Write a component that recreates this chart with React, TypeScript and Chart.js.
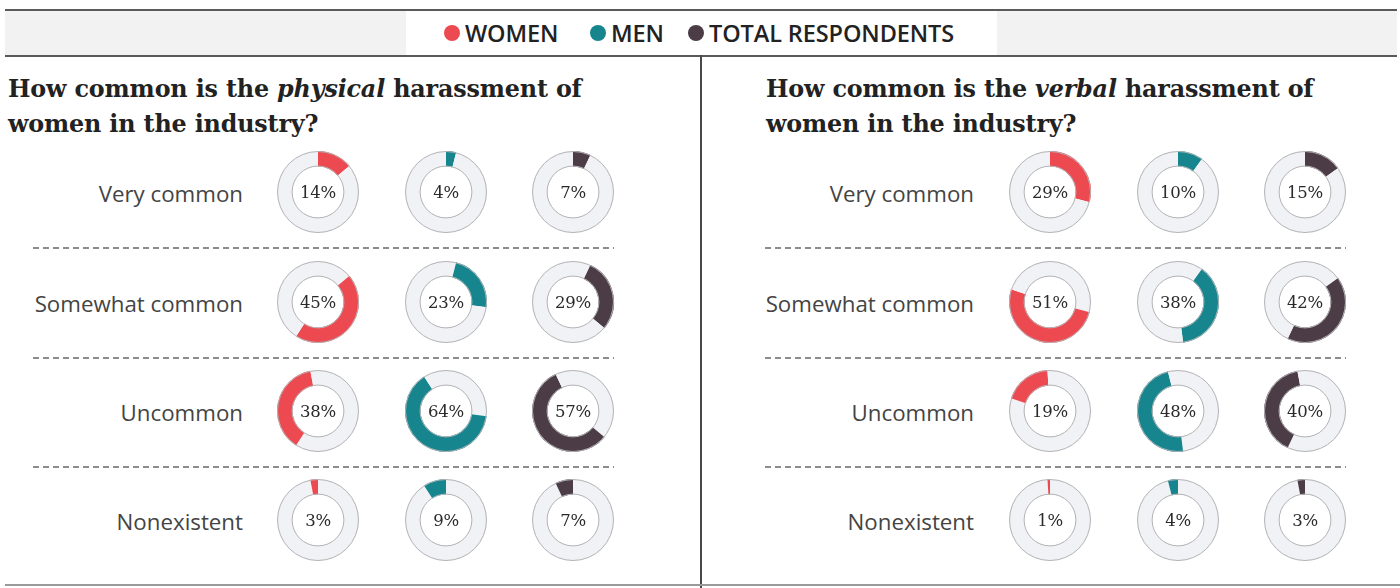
import React, { useEffect, useRef } from "react";
import { Chart, registerables } from "chart.js";

Chart.register(...registerables);

// ---------- DATA ----------
const categories = ["Very common", "Somewhat common", "Uncommon", "Nonexistent"];
const seriesNames = ["WOMEN", "MEN", "TOTAL RESPONDENTS"];
const physicalWomen = [14, 45, 38, 3];
const physicalMen = [4, 23, 64, 9];
const physicalTotal = [7, 29, 57, 7];
const verbalWomen = [29, 51, 19, 1];
const verbalMen = [10, 38, 48, 4];
const verbalTotal = [15, 42, 40, 3];

// ---------- STYLE ----------
const seriesColors = ["#ec4a50", "#16858e", "#4b3c46"];
const ringBg = "#f1f2f5";
const ringLine = "#b4b4b6";
const SANS = "'Open Sans', 'Noto Sans', sans-serif";
const SERIF = "'DejaVu Serif', serif";

const colX = [318, 446, 573];
const rowY = [192, 302, 411, 520];
const CANVAS = 86;

const outlinePlugin = {
  id: "ringOutline",
  afterDatasetsDraw(chart: any) {
    const meta = chart.getDatasetMeta(0);
    const arc = meta.data[0];
    if (!arc) return;
    const p = arc.getProps(["x", "y", "outerRadius", "innerRadius"], true);
    const ctx = chart.ctx;
    ctx.save();
    ctx.strokeStyle = ringLine;
    ctx.lineWidth = 1;
    ctx.beginPath();
    ctx.arc(p.x, p.y, p.outerRadius - 0.5, 0, Math.PI * 2);
    ctx.stroke();
    ctx.beginPath();
    ctx.arc(p.x, p.y, p.innerRadius + 0.5, 0, Math.PI * 2);
    ctx.stroke();
    ctx.restore();
  },
};

function Donut({ before, value, color, cx, cy }: any) {
  const ref = useRef<HTMLCanvasElement>(null);
  useEffect(() => {
    const after = 100 - before - value;
    const chart = new Chart(ref.current!, {
      type: "doughnut",
      data: {
        labels: ["before", "value", "after"],
        datasets: [
          {
            data: [before, value, after],
            backgroundColor: [ringBg, color, ringBg],
            borderWidth: 0,
          },
        ],
      },
      options: {
        responsive: false,
        animation: false,
        cutout: "62%",
        events: [],
        layout: { padding: 2 },
        plugins: { legend: { display: false }, tooltip: { enabled: false } },
      },
      plugins: [outlinePlugin],
    });
    return () => chart.destroy();
  }, [before, value, color]);
  return (
    <div
      style={{
        position: "absolute",
        left: cx - CANVAS / 2,
        top: cy - CANVAS / 2,
        width: CANVAS,
        height: CANVAS,
      }}
    >
      <canvas ref={ref} width={CANVAS} height={CANVAS} style={{ width: CANVAS, height: CANVAS }} />
      <div
        style={{
          position: "absolute",
          left: 0,
          top: 0,
          width: CANVAS,
          height: CANVAS,
          display: "flex",
          alignItems: "center",
          justifyContent: "center",
          fontFamily: SERIF,
          fontSize: 16.5,
          letterSpacing: -0.3,
          color: "#2a2a2a",
        }}
      >
        {value}%
      </div>
    </div>
  );
}

function Panel({ x0, labelRight, titleX, title1a, titleItalic, title1b, series }: any) {
  const cumulative = (arr: number[], i: number) => arr.slice(0, i).reduce((a, b) => a + b, 0);
  return (
    <>
      <div
        style={{
          position: "absolute",
          left: titleX,
          top: 72,
          fontFamily: SERIF,
          fontWeight: "bold",
          fontSize: 23.8,
          letterSpacing: -0.15,
          lineHeight: "35px",
          color: "#222",
          whiteSpace: "nowrap",
        }}
      >
        {title1a}
        <i>{titleItalic}</i>
        {title1b}
        <br />
        women in the industry?
      </div>
      {categories.map((c, r) => (
        <div
          key={c}
          style={{
            position: "absolute",
            right: 1400 - labelRight,
            top: rowY[r] + 2 - 16,
            height: 32,
            lineHeight: "32px",
            fontFamily: SANS,
            fontSize: 22.3,
            color: "#444",
            whiteSpace: "nowrap",
          }}
        >
          {c}
        </div>
      ))}
      {[0, 1, 2].map((r) => (
        <div
          key={r}
          style={{
            position: "absolute",
            left: x0 + 33,
            top: Math.round((rowY[r] + rowY[r + 1]) / 2),
            width: 581,
            height: 2,
            background: "repeating-linear-gradient(to right, #8c8c8c 0px, #8c8c8c 6px, transparent 6px, transparent 10px)",
          }}
        />
      ))}
      {series.map((arr: number[], s: number) =>
        arr.map((v: number, r: number) => (
          <Donut
            key={s + "-" + r}
            before={cumulative(arr, r)}
            value={v}
            color={seriesColors[s]}
            cx={x0 + colX[s]}
            cy={rowY[r]}
          />
        ))
      )}
    </>
  );
}

export default function App() {
  const legendX = [452, 598, 696];
  return (
    <div
      style={{
        position: "absolute",
        left: 0,
        top: 0,
        width: 1400,
        height: 588,
        background: "#fff",
        overflow: "hidden",
      }}
    >
      {/* top band */}
      <div
        style={{
          position: "absolute",
          left: 5,
          top: 9,
          width: 1392,
          height: 44,
          background: "#f2f2f2",
          borderTop: "2px solid #5a5a5a",
          borderBottom: "2px solid #5a5a5a",
        }}
      />
      <div style={{ position: "absolute", left: 406, top: 11, width: 591, height: 44, background: "#fff" }} />
      {seriesNames.map((n, i) => (
        <div
          key={n}
          style={{
            position: "absolute",
            left: legendX[i] - 8,
            top: 17,
            height: 32,
            display: "flex",
            alignItems: "center",
            fontFamily: SANS,
            fontWeight: 600,
            fontSize: 23.5,
            letterSpacing: -0.1,
            color: "#222",
            whiteSpace: "nowrap",
          }}
        >
          <span
            style={{
              display: "inline-block",
              width: 16,
              height: 16,
              borderRadius: 8,
              background: seriesColors[i],
              marginRight: 5,
            }}
          />
          {n}
        </div>
      ))}
      {/* divider */}
      <div style={{ position: "absolute", left: 700, top: 55, width: 2, height: 533, background: "#4a4a4a" }} />
      <div style={{ position: "absolute", left: 5, top: 584, width: 1395, height: 2, background: "#9a9a9a" }} />

      <Panel
        x0={0}
        labelRight={243}
        titleX={8}
        title1a="How common is the "
        titleItalic="physical"
        title1b=" harassment of"
        series={[physicalWomen, physicalMen, physicalTotal]}
      />
      <Panel
        x0={732}
        labelRight={974}
        titleX={766}
        title1a="How common is the "
        titleItalic="verbal"
        title1b=" harassment of"
        series={[verbalWomen, verbalMen, verbalTotal]}
      />
    </div>
  );
}
